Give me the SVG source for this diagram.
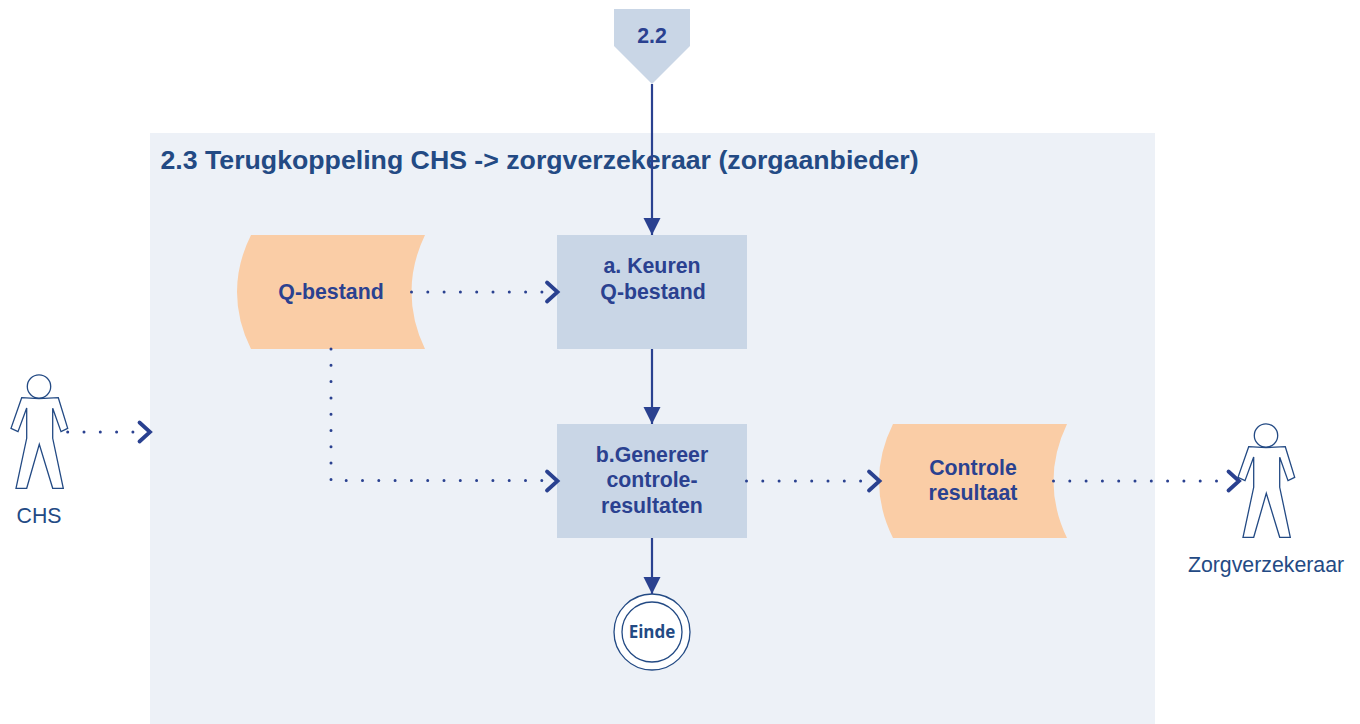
<svg xmlns="http://www.w3.org/2000/svg" width="1360" height="724" viewBox="0 0 1360 724">
<style>
.lbl{font-family:"Liberation Sans",Arial,sans-serif;font-weight:bold;font-size:21.3px;fill:#2a4190;text-anchor:middle}
.actor{font-family:"Liberation Sans",Arial,sans-serif;font-size:21.3px;fill:#234a84;text-anchor:middle}
.proc{fill:#c9d6e6}
.doc{fill:#facda6}
.fig{fill:#fff;stroke:#234a84;stroke-width:1.3;stroke-linejoin:miter}
.solid{fill:none;stroke:#2a4190;stroke-width:2.2}
.dot{fill:none;stroke:#2a4190;stroke-width:3;stroke-linecap:round;stroke-dasharray:0 16.3}
.chev{fill:none;stroke:#2a4190;stroke-width:3.8;stroke-linecap:round;stroke-linejoin:miter}
</style>
<defs>
<g id="person">
<circle cx="39" cy="386.500" r="11.700"/>
<path d="M21.700 397.700L39 398.600L58.300 397.700L67.700 428.300L61 431.700L52.700 408.300V438.300L63.300 488.300H52.700L39.300 444.300L26.700 488.300H16L26.700 438.300V408L18 431.700L11 428.300Z"/>
</g>
<marker id="tri" markerUnits="userSpaceOnUse" markerWidth="18" markerHeight="18" refX="17" refY="9" orient="auto"><path d="M0 0.500L17 9L0 17.500Z" fill="#2a4190"/></marker>
</defs>
<rect width="1360" height="724" fill="#fff"/>
<rect id="panel" x="150" y="133" width="1005" height="591" fill="#edf1f7"/>
<text id="title" x="160.500" y="169" style="font-family:'Liberation Sans',Arial,sans-serif;font-weight:bold;font-size:26.700px;fill:#234a84">2.3 Terugkoppeling CHS -&gt; zorgverzekeraar (zorgaanbieder)</text>
<g id="node-offpage"><path class="proc" d="M614 9H690V46L652 84L614 46Z"/><text class="lbl" x="652" y="43">2.2</text></g>
<g id="node-q-bestand"><path class="doc" d="M251 235H425Q411.500 263 411.500 292Q411.500 321 425 349H251Q237 321 237 292Q237 263 251 235Z"/><text class="lbl" x="331" y="299">Q-bestand</text></g>
<g id="node-keuren"><rect class="proc" x="557" y="235" width="190" height="114"/><text class="lbl" x="652" y="273">a. Keuren</text><text class="lbl" x="653" y="299">Q-bestand</text></g>
<g id="node-genereer"><rect class="proc" x="557" y="424" width="190" height="114"/><text class="lbl" x="652" y="462">b.Genereer</text><text class="lbl" x="652" y="487">controle-</text><text class="lbl" x="652" y="513">resultaten</text></g>
<g id="node-controle"><path class="doc" d="M893 424H1067Q1053.500 452 1053.500 481Q1053.500 510 1067 538H893Q879 510 879 481Q879 452 893 424Z"/><text class="lbl" x="973" y="475">Controle</text><text class="lbl" x="973" y="500">resultaat</text></g>
<g id="node-einde"><circle cx="652" cy="632" r="38" fill="#fff" stroke="#234a84" stroke-width="1.300"/><circle cx="652" cy="632" r="30" fill="#fff" stroke="#234a84" stroke-width="1.300"/><text x="652" y="638" text-anchor="middle" style="font-family:'Open Sans','Noto Sans',sans-serif;font-weight:bold;font-size:17px;fill:#234a84">Einde</text></g>
<g id="node-chs"><use href="#person" class="fig"/><text class="actor" x="39" y="523">CHS</text></g>
<g id="node-zorgverzekeraar"><use href="#person" class="fig" transform="translate(1227 49)"/><text class="actor" x="1266" y="572">Zorgverzekeraar</text></g>
<g id="connectors">
<path class="solid" d="M652 84V235" marker-end="url(#tri)"/>
<path class="solid" d="M652 349V424" marker-end="url(#tri)"/>
<path class="solid" d="M652 538V594" marker-end="url(#tri)"/>
<path class="dot" d="M411.500 292H550"/><path class="chev" d="M547 282.500L557.500 292L547 301.500"/>
<path class="dot" d="M331 349V480.500H550"/><path class="chev" d="M547 471.500L557.500 481L547 490.500"/>
<path class="dot" d="M746.500 481H872"/><path class="chev" d="M869 471.500L879.500 481L869 490.500"/>
<path class="dot" d="M1053.500 481H1232"/><path class="chev" d="M1228.500 471.500L1239 481L1228.500 490.500"/>
<path class="dot" d="M67.700 432H142"/><path class="chev" d="M139.500 422.500L150 432L139.500 441.500"/>
</g>
</svg>
